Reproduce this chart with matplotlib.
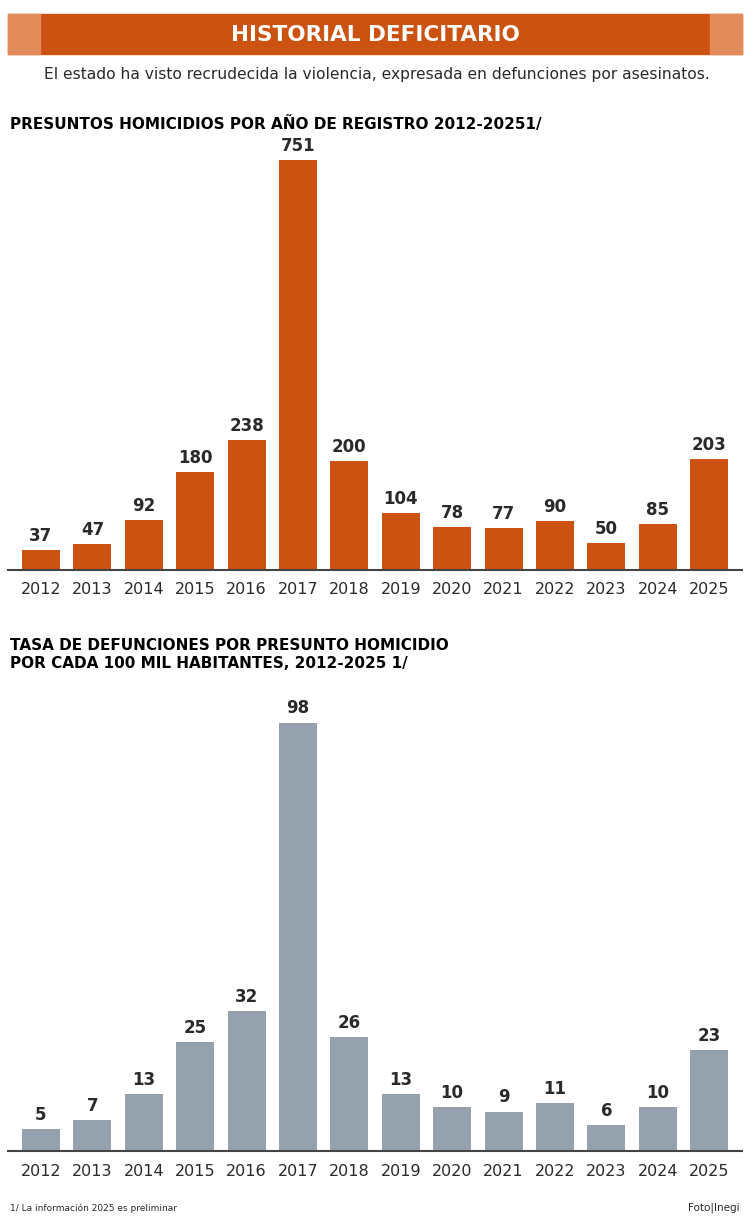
import matplotlib.pyplot as plt
from matplotlib.patches import Rectangle
from matplotlib import font_manager

years = ['2012', '2013', '2014', '2015', '2016', '2017', '2018',
         '2019', '2020', '2021', '2022', '2023', '2024', '2025']
homicidios = [37, 47, 92, 180, 238, 751, 200, 104, 78, 77, 90, 50, 85, 203]
tasa = [5, 7, 13, 25, 32, 98, 26, 13, 10, 9, 11, 6, 10, 23]

titulo = 'HISTORIAL DEFICITARIO'
subtitulo = 'El estado ha visto recrudecida la violencia, expresada en defunciones por asesinatos.'
titulo1 = 'PRESUNTOS HOMICIDIOS POR AÑO DE REGISTRO 2012-20251/'
titulo2 = 'TASA DE DEFUNCIONES POR PRESUNTO HOMICIDIO\nPOR CADA 100 MIL HABITANTES, 2012-2025 1/'
nota = '1/ La información 2025 es preliminar'
fuente = 'Foto|Inegi'

ORANGE = '#CC5212'
LIGHT_ORANGE = '#E38A5B'
GREY = '#95A2AD'
TEXT = '#2a2a2a'

names = {f.name for f in font_manager.fontManager.ttflist}
FONT = ['Liberation Sans Narrow', 'DejaVu Sans'] if 'Liberation Sans Narrow' in names else ['DejaVu Sans']
plt.rcParams['font.family'] = FONT

W, H = 750, 1218
fig = plt.figure(figsize=(W / 100, H / 100), dpi=100)


def fx(px):
    return px / W


def fy(py):
    return 1 - py / H


# header bar
fig.patches.append(Rectangle((fx(8), fy(54)), fx(734), 40 / H, transform=fig.transFigure,
                             color=ORANGE, zorder=0))
fig.patches.append(Rectangle((fx(8), fy(54)), fx(32), 40 / H, transform=fig.transFigure,
                             color=LIGHT_ORANGE, zorder=1))
fig.patches.append(Rectangle((fx(710), fy(54)), fx(32), 40 / H, transform=fig.transFigure,
                             color=LIGHT_ORANGE, zorder=1))
fig.text(0.5, fy(35), titulo, color='white', fontsize=15.5, fontweight='bold',
         ha='center', va='center')
fig.text(fx(377), fy(75), subtitulo, color=TEXT, fontsize=11.2, ha='center', va='center')
fig.text(fx(10), fy(124), titulo1, color='black', fontsize=11, fontweight='bold',
         ha='left', va='center')
fig.text(fx(10), fy(655), titulo2, color='black', fontsize=11, fontweight='bold',
         ha='left', va='center', linespacing=1.25)
fig.text(fx(10), fy(1208), nota, color=TEXT, fontsize=6.5, ha='left', va='center')
fig.text(fx(740), fy(1208), fuente, color=TEXT, fontsize=7.5, ha='right', va='center')

x = list(range(len(years)))
lo, hi = -0.642, 13.64


def draw(top, bottom, values, color, scale, fmt_off):
    ax = fig.add_axes([fx(8), fy(bottom), fx(734), (bottom - top) / H])
    ax.bar(x, values, width=0.74, color=color, zorder=2)
    ax.set_xlim(lo, hi)
    ax.set_ylim(0, (bottom - top) / scale)
    for i, v in zip(x, values):
        ax.text(i, v + fmt_off, str(v), ha='center', va='bottom', fontsize=12,
                fontweight='bold', color=TEXT)
    ax.set_xticks(x)
    ax.set_xticklabels(years, fontsize=11.5, color=TEXT)
    ax.tick_params(axis='x', length=0, pad=9)
    ax.set_yticks([])
    for s in ['top', 'right', 'left']:
        ax.spines[s].set_visible(False)
    ax.spines['bottom'].set_color('#444444')
    ax.spines['bottom'].set_linewidth(1.5)
    ax.set_facecolor('none')
    return ax


draw(150, 570, homicidios, ORANGE, 0.546, 9)
draw(700, 1151, tasa, GREY, 4.37, 1.2)

fig.savefig('out.png', dpi=100)
